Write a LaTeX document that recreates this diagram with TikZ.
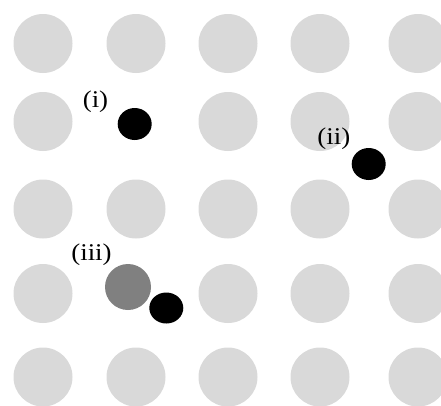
\documentclass[tikz,border=0pt]{standalone}
\usepackage{fontspec}
\setmainfont{Liberation Serif}

\begin{document}
\begin{tikzpicture}[x=1pt, y=-1pt,
    site/.style={fill={rgb,255:red,217;green,217;blue,217}},
    tag/.style={anchor=base, inner sep=0pt, xscale=1.12,
        font=\fontsize{24}{28}\selectfont}]
    \useasboundingbox (0,0) rectangle (441,405);

    % lattice sites (two of them are left empty)
    \foreach \y [count=\r] in {43.5,121.5,209,293.5,377}
        \foreach \x [count=\c] in {43,136,228,320,418} {
            \ifnum\c=2 \ifodd\r \else \def\x{-100}\fi\fi
            \fill [site] (\x,\y) circle (29.5);
        }

    % (i) interstitial
    \fill (134.7,124) ellipse (17 and 16);
    \node [tag] (tagi) at (95.5,107.5) {(i)};

    % (ii) interstitial
    \fill (368.7,164) ellipse (17 and 16);
    \node [tag] (tagii) at (333.8,144.5) {(ii)};

    % (iii) vacancy + interstitial
    \fill [gray] (128,287) circle (23);
    \fill (166.3,308) ellipse (17 and 15.5);
    \node [tag] (tagiii) at (91.5,260.8) {(iii)};
\end{tikzpicture}
\end{document}
